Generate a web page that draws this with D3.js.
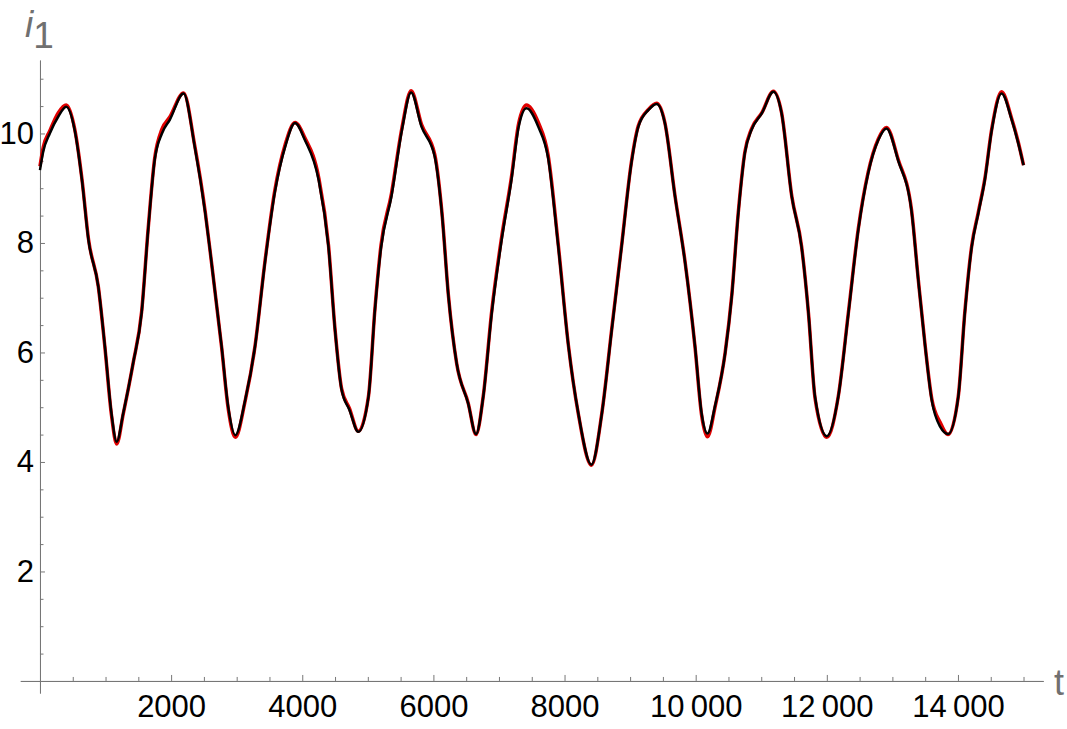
<!DOCTYPE html>
<html>
<head>
<meta charset="utf-8">
<script src="https://cdn.jsdelivr.net/npm/d3@7"></script>
<style>
  body { margin: 0; background: #fff; }
  svg { display: block; }
  .axis text { font-family: 'Liberation Sans', Arial, sans-serif; font-size: 31px; fill: #000; }
  .axis path, .axis line { stroke: #777; stroke-width: 1; }
  .label { font-family: 'Liberation Sans', Arial, sans-serif; fill: #707070; }
</style>
</head>
<body>
<svg id="chart" width="1067" height="729"></svg>
<script>
// time points shared by both curves
const times = [
  0, 50, 150, 280, 400, 530, 640, 740, 890, 990, 1090, 1170, 1270, 1420, 1550, 1650, 1750, 1860, 1980,
  2190, 2360, 2520, 2600, 2770, 2870, 2980, 3130, 3280, 3430, 3580, 3740, 3890, 4040, 4250, 4400, 4500,
  4600, 4720, 4855, 5010, 5110, 5200, 5360, 5520, 5660, 5820, 6020, 6130, 6230, 6355, 6530, 6650, 6760,
  6890, 7040, 7190, 7300, 7420, 7600, 7750, 7905, 8060, 8210, 8410, 8570, 8720, 8870, 9020, 9125, 9280,
  9405, 9530, 9685, 9840, 9990, 10090, 10180, 10300, 10450, 10550, 10650, 10750, 10850, 11010, 11185,
  11310, 11465, 11615, 11720, 11820, 12000, 12175, 12330, 12480, 12630, 12785, 12910, 13090, 13290,
  13395, 13500, 13600, 13730, 13850, 14005, 14105, 14210, 14310, 14410, 14515, 14665, 14820, 14920, 15000
];

// black curve (drawn on top)
const blackValues = [
  9.33, 9.67, 10.0, 10.31, 10.49, 10.06, 9.15, 8.05, 7.2, 6.11, 4.89, 4.37, 4.89, 5.8, 6.72, 8.24, 9.52, 10.0, 10.25,
  10.73, 9.76, 8.55, 7.8, 6.11, 5.01, 4.49, 5.13, 6.11, 7.63, 8.91, 9.76, 10.19, 9.88, 9.15, 7.93, 6.41,
  5.32, 4.95, 4.55, 5.19, 6.8, 7.9, 8.85, 10.06, 10.75, 10.12, 9.58, 8.54, 7.02, 5.8, 5.07, 4.51, 5.19,
  6.72, 8.05, 9.15, 10.12, 10.46, 10.12, 9.55, 7.93, 6.11, 4.89, 3.95, 4.89, 6.41, 7.93, 9.46, 10.12, 10.43,
  10.54, 10.19, 8.85, 7.63, 6.11, 4.89, 4.52, 5.05, 5.99, 7.02, 8.54, 9.64, 10.06, 10.37, 10.76,
  10.37, 8.85, 7.93, 6.72, 5.19, 4.47, 5.19, 6.72, 8.24, 9.27, 9.88, 10.09, 9.5, 8.6,
  7.32, 6.11, 5.13, 4.64, 4.51, 5.19, 6.72, 7.93, 8.54, 9.15, 10.06, 10.73, 10.25, 9.82, 9.42
];

// red curve (underneath, almost the same)
const redValues = [
  9.4, 9.75, 10.05, 10.38, 10.52, 10.08, 9.17, 8.07, 7.2, 6.1, 4.86, 4.33, 4.88, 5.8, 6.74, 8.26, 9.55, 10.08, 10.3,
  10.74, 9.78, 8.57, 7.8, 6.1, 4.98, 4.45, 5.12, 6.12, 7.65, 8.95, 9.8, 10.2, 9.92, 9.2, 7.96, 6.42,
  5.34, 4.98, 4.56, 5.2, 6.82, 7.95, 8.9, 10.1, 10.78, 10.16, 9.62, 8.56, 7.03, 5.8, 5.08, 4.5, 5.2,
  6.76, 8.1, 9.2, 10.18, 10.52, 10.2, 9.6, 7.96, 6.12, 4.88, 3.94, 4.9, 6.43, 7.95, 9.48, 10.14, 10.44,
  10.55, 10.2, 8.86, 7.64, 6.1, 4.86, 4.46, 5.03, 6.0, 7.04, 8.56, 9.66, 10.08, 10.38, 10.77,
  10.38, 8.86, 7.94, 6.72, 5.17, 4.45, 5.2, 6.74, 8.26, 9.29, 9.9, 10.11, 9.52, 8.62,
  7.33, 6.12, 5.16, 4.72, 4.5, 5.2, 6.74, 7.95, 8.56, 9.17, 10.08, 10.76, 10.27, 9.84, 9.42
];

const xMajor = [2000, 4000, 6000, 8000, 10000, 12000, 14000];
const xMinor = d3.range(500, 15001, 500).filter(d => d % 2000 !== 0);
const yMajor = [2, 4, 6, 8, 10];
const yMinor = d3.range(0.5, 11.01, 0.5).filter(d => d % 2 !== 0);

const svg = d3.select("#chart");

const xScale = d3.scaleLinear().domain([-300, 15300]).range([20.3, 1043.2]);
const yScale = d3.scaleLinear().domain([-0.22, 11.34]).range([693, 60.1]);

// numbers from 10000 up get a thin space, like "10 000"
const fmtX = d => d >= 10000 ? d3.format(",")(d).replace(",", "\u2009") : String(d);

// x axis, minor ticks first
svg.append("g")
  .attr("class", "axis")
  .attr("transform", "translate(0," + yScale(0) + ")")
  .call(d3.axisBottom(xScale).tickValues(xMinor).tickSize(-4).tickSizeOuter(0).tickFormat(""));

svg.append("g")
  .attr("class", "axis")
  .attr("transform", "translate(0," + yScale(0) + ")")
  .call(d3.axisBottom(xScale).tickValues(xMajor).tickSize(-6).tickSizeOuter(0).tickPadding(14).tickFormat(fmtX))
  .call(g => g.selectAll("text").attr("dy", "0.71em"));

// y axis
svg.append("g")
  .attr("class", "axis")
  .attr("transform", "translate(" + xScale(0) + ",0)")
  .call(d3.axisLeft(yScale).tickValues(yMinor).tickSize(-3.5).tickSizeOuter(0).tickFormat(""));

svg.append("g")
  .attr("class", "axis")
  .attr("transform", "translate(" + xScale(0) + ",0)")
  .call(d3.axisLeft(yScale).tickValues(yMajor).tickSize(-5).tickSizeOuter(0).tickPadding(6).tickFormat(d3.format("d")));

// axis labels
svg.append("text")
  .attr("class", "label")
  .attr("x", 1054)
  .attr("y", 695)
  .style("font-size", "36px")
  .text("t");

const iLabel = svg.append("text")
  .attr("class", "label")
  .attr("x", 25)
  .attr("y", 37)
  .style("font-size", "37px");
iLabel.append("tspan").style("font-style", "italic").text("i");
iLabel.append("tspan").attr("dy", 11).text("1");

const line = d3.line()
  .x((d, i) => xScale(times[i]))
  .y(d => yScale(d))
  .curve(d3.curveMonotoneX);

svg.append("path")
  .attr("d", line(redValues))
  .attr("fill", "none")
  .attr("stroke", "#e00000")
  .attr("stroke-width", 3.5)
  .attr("stroke-linejoin", "round");

svg.append("path")
  .attr("d", line(blackValues))
  .attr("fill", "none")
  .attr("stroke", "#000")
  .attr("stroke-width", 2.5)
  .attr("stroke-linejoin", "round");
</script>
</body>
</html>
